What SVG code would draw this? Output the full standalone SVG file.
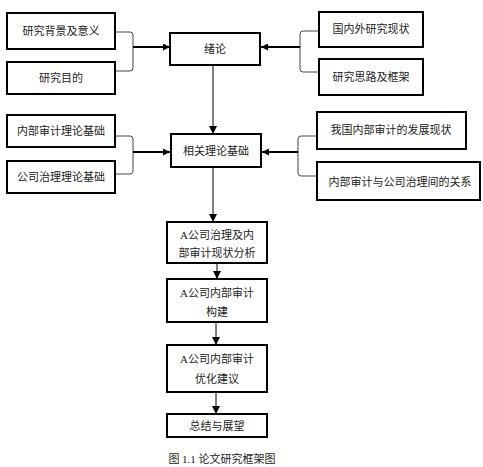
<svg xmlns="http://www.w3.org/2000/svg" width="483" height="467" viewBox="0 0 483 467">
<style>
.box{fill:#fff;stroke:#000;stroke-width:2}
.t{font-family:"Liberation Serif","Noto Sans CJK SC",serif;font-size:11px;fill:#222;text-anchor:middle}
.br{fill:none;stroke:#444;stroke-width:1}
.thick{fill:none;stroke:#000;stroke-width:2}
.thin{fill:none;stroke:#000;stroke-width:1}
</style>
<defs>
<marker id="ah" viewBox="0 0 10 10" refX="10" refY="5" markerWidth="7" markerHeight="7" markerUnits="userSpaceOnUse" orient="auto"><path d="M0,0 L10,5 L0,10 z" fill="#000"/></marker>
<marker id="av" viewBox="0 0 10 10" refX="10" refY="5" markerWidth="8" markerHeight="8" markerUnits="userSpaceOnUse" orient="auto"><path d="M0,0 L10,5 L0,10 z" fill="#000"/></marker>
</defs>
<rect width="483" height="467" fill="#fff"/>
<g id="connectors">
<path class="br" d="M115,32 H130 Q133,32 133,35 V68 Q133,71 130,71 H115"/>
<path class="thick" d="M133,47 H170" marker-end="url(#ah)"/>
<path class="br" d="M319,31 H303 Q300,31 300,34 V69 Q300,72 303,72 H319"/>
<path class="thick" d="M300,47 H261" marker-end="url(#ah)"/>
<path class="br" d="M115,136 H130 Q133,136 133,139 V171 Q133,174 130,174 H115"/>
<path class="thick" d="M133,152 H170" marker-end="url(#ah)"/>
<path class="br" d="M317,136 H301 Q298,136 298,139 V173 Q298,176 301,176 H317"/>
<path class="thick" d="M298,152 H262" marker-end="url(#ah)"/>
<path class="thin" d="M213,65 V134" marker-end="url(#av)"/>
<path class="thin" d="M213,167 V222" marker-end="url(#av)"/>
<path class="thin" d="M217,263 V279" marker-end="url(#av)"/>
<path class="thin" d="M216,322 V345" marker-end="url(#av)"/>
<path class="thin" d="M216,392 V414" marker-end="url(#av)"/>
</g>
<g id="n1"><rect class="box" x="7" y="13" width="108" height="36"/><text class="t" x="61" y="35">研究背景及意义</text></g>
<g id="n2"><rect class="box" x="7" y="62" width="108" height="32"/><text class="t" x="61" y="82">研究目的</text></g>
<g id="n3"><rect class="box" x="170" y="33" width="90" height="32"/><text class="t" x="215" y="53">绪论</text></g>
<g id="n4"><rect class="box" x="319" y="12" width="104" height="35"/><text class="t" x="371" y="33">国内外研究现状</text></g>
<g id="n5"><rect class="box" x="319" y="59" width="104" height="36"/><text class="t" x="371" y="81">研究思路及框架</text></g>
<g id="n6"><rect class="box" x="7" y="115" width="108" height="32"/><text class="t" x="61" y="135">内部审计理论基础</text></g>
<g id="n7"><rect class="box" x="7" y="161" width="108" height="32"/><text class="t" x="61" y="181">公司治理理论基础</text></g>
<g id="n8"><rect class="box" x="171" y="134" width="90" height="33"/><text class="t" x="216" y="155">相关理论基础</text></g>
<g id="n9"><rect class="box" x="317" y="112" width="149" height="37"/><text class="t" x="391" y="134">我国内部审计的发展现状</text></g>
<g id="n10"><rect class="box" x="317" y="162" width="163" height="38"/><text class="t" x="400" y="186">内部审计与公司治理间的关系</text></g>
<g id="n11"><rect class="box" x="167" y="222" width="100" height="41"/><text class="t" x="217" y="239">A公司治理及内</text><text class="t" x="217" y="257">部审计现状分析</text></g>
<g id="n12"><rect class="box" x="167" y="279" width="100" height="43"/><text class="t" x="217" y="297">A公司内部审计</text><text class="t" x="217" y="316">构建</text></g>
<g id="n13"><rect class="box" x="167" y="345" width="100" height="47"/><text class="t" x="217" y="363">A公司内部审计</text><text class="t" x="217" y="383">优化建议</text></g>
<g id="n14"><rect class="box" x="167" y="414" width="100" height="23"/><text class="t" x="217" y="430">总结与展望</text></g>
<text class="t" x="222" y="463">图 1.1  论文研究框架图</text>
</svg>
